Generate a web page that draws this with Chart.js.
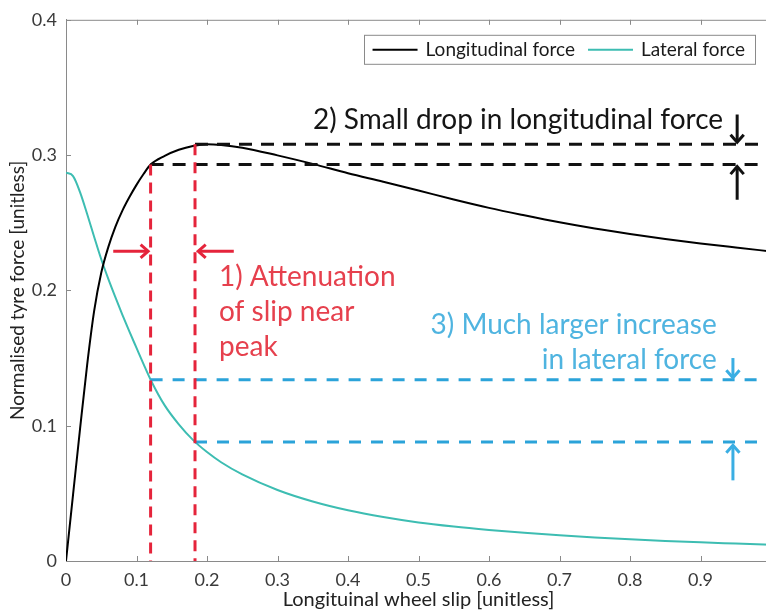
<!DOCTYPE html>
<html>
<head>
<meta charset="utf-8">
<title>Tyre force vs longitudinal slip</title>
<script src="https://cdn.jsdelivr.net/npm/chart.js@4.4.1/dist/chart.umd.min.js"></script>
<style>
  html, body { margin: 0; padding: 0; background: #fff; overflow: hidden; }
  #wrap { width: 766px; height: 613px; overflow: hidden; }
  canvas { display: block; }
</style>
</head>
<body>
<div id="wrap"><canvas id="tyreChart" width="790" height="613"></canvas></div>
<script>
// slip samples shared by both force curves
const slip = [0, 0.01, 0.02, 0.03, 0.04, 0.05, 0.06, 0.07, 0.08, 0.09, 0.10, 0.11, 0.12,
  0.14, 0.16, 0.18, 0.20, 0.22, 0.25, 0.30, 0.35, 0.40, 0.45, 0.50, 0.55, 0.60,
  0.65, 0.70, 0.75, 0.80, 0.85, 0.90, 0.95, 1.00];

const longitudinalForce = [0, 0.049, 0.098, 0.145, 0.185, 0.213, 0.232, 0.247, 0.259, 0.269, 0.278, 0.286, 0.293,
  0.2995, 0.3040, 0.3068, 0.3080, 0.3075, 0.3055, 0.2998, 0.2935, 0.2866, 0.2803, 0.2738, 0.2672, 0.2610,
  0.2555, 0.2503, 0.2457, 0.2417, 0.2380, 0.2347, 0.2317, 0.2288];

const lateralForce = [0.287, 0.2845, 0.2725, 0.2565, 0.2395, 0.2230, 0.2085, 0.1950, 0.1820, 0.1695, 0.1575, 0.1455, 0.1340,
  0.1150, 0.1010, 0.0895, 0.0805, 0.0730, 0.0640, 0.0525, 0.0440, 0.0375, 0.0325, 0.0285, 0.0255, 0.0230,
  0.0208, 0.0190, 0.0174, 0.0160, 0.0148, 0.0138, 0.0129, 0.0120];

const seriesLabels = ['Longitudinal force', 'Lateral force'];

// slip before / after attenuation and the forces at those slips
const slipMarks = [0.12, 0.183];
const longitudinalMarks = [0.293, 0.308];
const lateralMarks = [0.134, 0.088];

const xTickValues = [0, 0.1, 0.2, 0.3, 0.4, 0.5, 0.6, 0.7, 0.8, 0.9, 1];
const yTickValues = [0, 0.1, 0.2, 0.3, 0.4];

const FONT = 'Lato, "Open Sans", sans-serif';
const AXIS_GREY = '#8a8a8a';
const RED = '#e5243b';
const BLUE = '#2ba3d9';

function pts(xs, ys) {
  return xs.map((x, i) => ({ x: x, y: ys[i] }));
}

// dashed guide line helpers
function vLine(x, yTop, color) {
  return { data: [{ x: x, y: yTop }, { x: x, y: 0 }], borderColor: color, borderWidth: 3,
    borderDash: [11, 7], pointRadius: 0, order: 0, isGuide: true };
}
function hLine(xStart, y, color, dash) {
  return { data: [{ x: xStart, y: y }, { x: 1, y: y }], borderColor: color, borderWidth: 3,
    borderDash: dash, pointRadius: 0, order: 0, isGuide: true };
}

// arrows and notes, in data units
const arrows = [
  { from: [0.067, 0.229], to: [0.1165, 0.229], color: RED },
  { from: [0.238, 0.229], to: [0.1875, 0.229], color: RED },
  { from: [0.952, 0.330], to: [0.952, 0.3095], color: '#111' },
  { from: [0.952, 0.267], to: [0.952, 0.2915], color: '#111' },
  { from: [0.946, 0.150], to: [0.946, 0.1355], color: '#3aaee3' },
  { from: [0.946, 0.0596], to: [0.946, 0.0855], color: '#3aaee3' }
];

const notes = [
  { lines: ['2) Small drop in longitudinal force'], x: 0.932, y: 0.3191, align: 'right', color: '#151515' },
  { lines: ['1) Attenuation', 'of slip near', 'peak'], x: 0.217, y: 0.203, align: 'left', color: '#e6404d' },
  { lines: ['3) Much larger increase', 'in lateral force'], x: 0.923, y: 0.168, align: 'right', color: '#4fb4e0' }
];

function drawArrow(ctx, x1, y1, x2, y2, color) {
  const ang = Math.atan2(y2 - y1, x2 - x1);
  const head = 10, spread = 0.72;
  ctx.save();
  ctx.strokeStyle = color;
  ctx.lineWidth = 3;
  ctx.lineCap = 'butt';
  ctx.beginPath();
  ctx.moveTo(x1, y1);
  ctx.lineTo(x2 - Math.cos(ang) * 1.5, y2 - Math.sin(ang) * 1.5);
  ctx.stroke();
  ctx.lineJoin = 'miter';
  ctx.beginPath();
  ctx.moveTo(x2 - head * Math.cos(ang - spread), y2 - head * Math.sin(ang - spread));
  ctx.lineTo(x2, y2);
  ctx.lineTo(x2 - head * Math.cos(ang + spread), y2 - head * Math.sin(ang + spread));
  ctx.stroke();
  ctx.restore();
}

// inside ticks, top frame line, legend box, arrows and notes
const decorPlugin = {
  id: 'decor',
  afterDatasetsDraw(chart) {
    const { ctx, chartArea: a, scales } = chart;
    const sx = scales.x, sy = scales.y;

    ctx.save();
    ctx.strokeStyle = AXIS_GREY;
    ctx.lineWidth = 1;
    ctx.beginPath();
    ctx.moveTo(a.left, a.top + 0.5);
    ctx.lineTo(a.right, a.top + 0.5);
    sx.ticks.forEach(t => {
      const px = Math.round(sx.getPixelForValue(t.value)) + 0.5;
      if (t.value === 0) return;
      ctx.moveTo(px, a.bottom);
      ctx.lineTo(px, a.bottom - 5);
      ctx.moveTo(px, a.top);
      ctx.lineTo(px, a.top + 5);
    });
    sy.ticks.forEach(t => {
      const py = Math.round(sy.getPixelForValue(t.value)) + 0.5;
      if (t.value === 0) return;
      ctx.moveTo(a.left, py);
      ctx.lineTo(a.left + 5, py);
    });
    ctx.stroke();
    ctx.restore();

    arrows.forEach(ar => {
      drawArrow(ctx,
        sx.getPixelForValue(ar.from[0]), sy.getPixelForValue(ar.from[1]),
        sx.getPixelForValue(ar.to[0]), sy.getPixelForValue(ar.to[1]), ar.color);
    });

    ctx.save();
    ctx.font = '28px ' + FONT;
    ctx.textBaseline = 'alphabetic';
    notes.forEach(n => {
      ctx.fillStyle = n.color;
      ctx.textAlign = n.align;
      const px = sx.getPixelForValue(n.x);
      const py = sy.getPixelForValue(n.y);
      n.lines.forEach((ln, i) => ctx.fillText(ln, px, py + i * 35));
    });
    ctx.restore();

    // legend
    const curves = chart.data.datasets.filter(d => !d.isGuide);
    ctx.save();
    ctx.font = '19px ' + FONT;
    const sample = 45, gapText = 8, gapEntry = 13, padL = 9, padR = 10;
    let width = padL + padR;
    curves.forEach((d, i) => {
      width += sample + gapText + ctx.measureText(d.label).width + (i ? gapEntry : 0);
    });
    const right = a.right - 16, top = a.top + 15, h = 29;
    const left = right - width;
    ctx.fillStyle = '#fff';
    ctx.fillRect(left, top, width, h);
    ctx.strokeStyle = AXIS_GREY;
    ctx.lineWidth = 1;
    ctx.strokeRect(Math.round(left) + 0.5, top + 0.5, Math.round(width), h);
    let cx = left + padL;
    const cy = top + h / 2 + 0.5;
    curves.forEach((d, i) => {
      if (i) cx += gapEntry;
      ctx.strokeStyle = d.borderColor;
      ctx.lineWidth = 2;
      ctx.beginPath();
      ctx.moveTo(cx, cy);
      ctx.lineTo(cx + sample, cy);
      ctx.stroke();
      cx += sample + gapText;
      ctx.fillStyle = '#1a1a1a';
      ctx.textBaseline = 'middle';
      ctx.textAlign = 'left';
      ctx.fillText(d.label, cx, cy);
      cx += ctx.measureText(d.label).width;
    });
    ctx.restore();
  }
};

new Chart(document.getElementById('tyreChart'), {
  type: 'line',
  data: {
    datasets: [
      vLine(slipMarks[0], longitudinalMarks[0], RED),
      vLine(slipMarks[1], longitudinalMarks[1], RED),
      hLine(slipMarks[1], longitudinalMarks[1], '#111', [13, 9]),
      hLine(slipMarks[0], longitudinalMarks[0], '#111', [13, 9]),
      hLine(slipMarks[0], lateralMarks[0], BLUE, [12, 10]),
      hLine(slipMarks[1], lateralMarks[1], BLUE, [12, 10]),
      {
        label: seriesLabels[0],
        data: pts(slip, longitudinalForce),
        borderColor: '#000',
        borderWidth: 2,
        pointRadius: 0,
        cubicInterpolationMode: 'monotone',
        order: 2
      },
      {
        label: seriesLabels[1],
        data: pts(slip, lateralForce),
        borderColor: '#3dbdb2',
        borderWidth: 2,
        pointRadius: 0,
        cubicInterpolationMode: 'monotone',
        order: 3
      }
    ]
  },
  options: {
    responsive: false,
    animation: false,
    devicePixelRatio: 1,
    layout: { padding: { top: 17, right: 19, bottom: 0, left: 0 } },
    plugins: { legend: { display: false }, tooltip: { enabled: false } },
    scales: {
      x: {
        type: 'linear',
        min: 0,
        max: 1,
        afterBuildTicks: s => { s.ticks = xTickValues.map(v => ({ value: v })); },
        afterFit: s => { s.height = 52; },
        grid: { drawOnChartArea: false, drawTicks: false },
        border: { color: AXIS_GREY, width: 1 },
        ticks: {
          padding: 8,
          color: '#3a3a3a',
          font: { family: FONT, size: 18 },
          maxRotation: 0,
          callback: v => String(v)
        },
        title: {
          display: true,
          text: 'Longituinal wheel slip [unitless]',
          color: '#222',
          font: { family: FONT, size: 20 },
          padding: { top: 0, bottom: 1 }
        }
      },
      y: {
        min: 0,
        max: 0.4,
        afterBuildTicks: s => { s.ticks = yTickValues.map(v => ({ value: v })); },
        afterFit: s => { s.width = 66; },
        grid: { drawOnChartArea: false, drawTicks: false },
        border: { color: AXIS_GREY, width: 1 },
        ticks: {
          padding: 9,
          color: '#3a3a3a',
          font: { family: FONT, size: 18 },
          callback: v => String(v)
        },
        title: {
          display: true,
          text: 'Normalised tyre force [unitless]',
          color: '#222',
          font: { family: FONT, size: 19 },
          padding: { top: 6, bottom: 0 }
        }
      }
    }
  },
  plugins: [decorPlugin]
});
</script>
</body>
</html>
